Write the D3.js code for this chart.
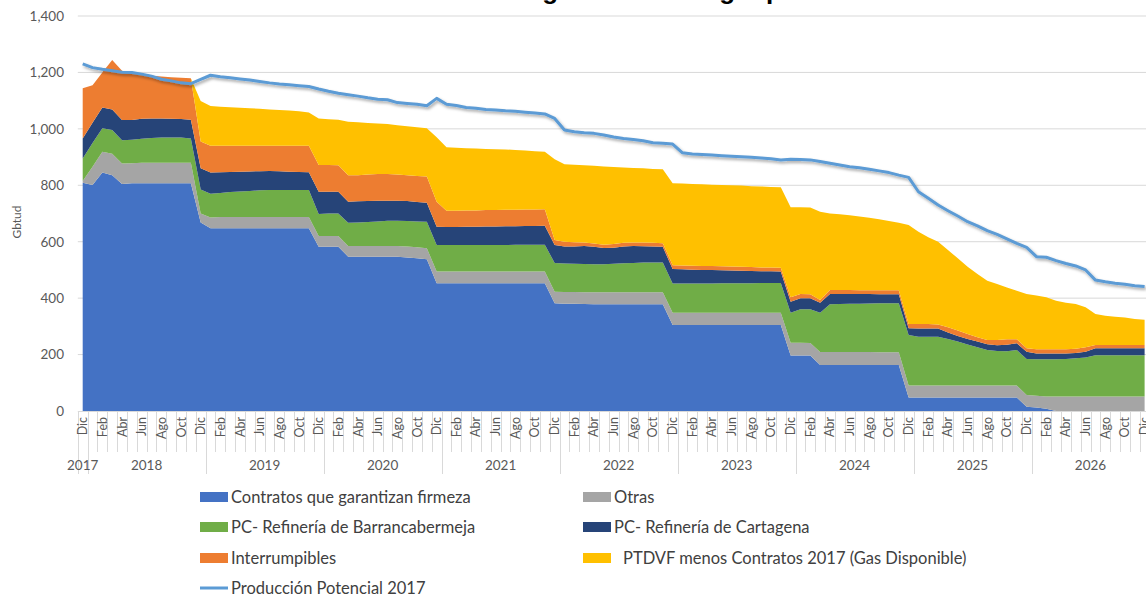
<!DOCTYPE html>
<html><head><meta charset="utf-8">
<script src="https://cdn.jsdelivr.net/npm/d3@7"></script>
<style>
body{margin:0;background:#fff}
svg{display:block}
text{font-family:Lato,"Open Sans",sans-serif}
</style>
</head><body>
<svg id="c" width="1146" height="597"></svg>
<script>
// ---------- DATA (monthly, Dic 2017 .. Dic 2026) ----------
const monthNames = ["Ene","Feb","Mar","Abr","May","Jun","Jul","Ago","Sep","Oct","Nov","Dic"];
const yearLabels = ["2017","2018","2019","2020","2021","2022","2023","2024","2025","2026"];
const yTicks = [0,200,400,600,800,1000,1200,1400];

const contratos = [
 809,801,845,836,805,807,807,807,807,807,807,807,
 668,648,648,648,648,648,648,648,648,648,648,648,
 582,582,582,547,547,547,547,547,547,544,541,538,
 453,453,453,453,453,453,453,453,453,453,453,453,
 382,380,380,379,378,378,378,378,378,378,378,378,
 305,305,305,305,305,305,305,305,305,305,305,305,
 197,197,197,163,163,163,163,163,163,163,163,163,
 48,48,48,48,48,48,48,48,48,48,48,48,
 15,12,8,0,0,0,0,0,0,0,0,0,0];
const otras = [
 6,65,74,76,72,71,73,73,73,73,73,73,
 32,38,40,40,40,40,40,40,40,40,40,40,
 38,38,38,38,38,38,38,38,38,39,39,39,
 41,41,41,41,41,41,41,41,41,41,41,41,
 41,42,42,42,43,43,43,43,43,43,43,43,
 43,43,43,43,43,43,43,43,43,43,43,43,
 45,45,44,46,46,46,46,46,46,45,45,45,
 42,42,42,42,42,42,42,42,42,42,42,42,
 42,42,43,51,51,51,51,51,51,51,51,51,51];
const barrancabermeja = [
 80,84,83,84,83,83,85,88,89,89,89,86,
 85,84,85,88,90,92,94,95,95,95,95,95,
 78,80,80,82,83,85,87,89,89,90,92,94,
 94,94,94,94,94,94,94,94,95,95,95,95,
 102,101,100,100,99,99,101,103,104,105,105,105,
 104,104,104,104,104,105,105,105,105,106,106,106,
 106,119,120,139,169,170,171,171,172,174,174,174,
 179,173,173,173,165,156,146,136,126,123,122,126,
 127,129,132,132,133,136,139,147,147,147,147,147,147];
const cartagena = [
 71,72,74,73,71,70,71,69,68,67,66,66,
 75,75,73,71,70,69,68,68,67,65,64,63,
 79,77,77,75,75,74,73,71,71,71,69,67,
 65,64,64,65,65,66,66,67,66,67,67,68,
 63,60,61,64,62,58,57,59,60,58,57,56,
 51,50,49,48,48,46,45,44,43,41,41,40,
 39,39,39,36,37,36,35,35,34,32,32,32,
 24,29,29,29,23,20,19,20,21,20,23,24,
 26,21,21,21,20,19,20,24,24,24,24,24,24];
const interrumpibles = [
 178,133,124,175,175,166,157,151,149,147,146,147,
 95,95,94,93,92,91,90,89,90,92,93,94,
 95,95,94,94,93,94,95,95,93,92,92,93,
 89,58,58,58,58,58,58,58,58,58,58,58,
 18,17,15,12,12,11,13,13,12,13,13,13,
 14,14,14,14,14,14,14,14,14,14,14,14,
 16,15,14,9,14,14,14,13,13,14,14,14,
 15,16,16,15,19,19,18,15,15,19,19,14,
 12,15,15,15,15,15,16,12,12,12,12,12,12];
const gasDisponible = [
 0,0,0,0,0,0,0,0,0,0,0,0,
 144,141,138,137,135,133,131,129,127,125,122,118,
 165,162,161,189,187,183,179,177,175,173,173,171,
 228,225,223,220,219,217,216,214,212,209,207,204,
 286,275,275,274,275,278,273,267,264,263,262,262,
 290,290,290,290,288,288,288,288,287,287,285,285,
 319,307,307,313,271,268,265,261,257,252,245,239,
 351,327,308,293,274,256,238,225,210,198,184,172,
 193,190,184,172,165,158,142,110,104,100,97,92,89];
const produccion = [
 1230,1217,1211,1206,1201,1200,1194,1187,1176,1170,1163,1160,
 1175,1190,1185,1181,1177,1173,1168,1163,1159,1156,1153,1150,
 1141,1133,1126,1121,1116,1110,1105,1103,1093,1090,1087,1082,
 1108,1087,1083,1076,1073,1069,1067,1064,1062,1059,1056,1053,
 1037,996,990,986,984,978,971,966,962,958,951,949,
 946,915,911,909,907,905,903,901,899,897,894,890,
 892,891,890,884,878,872,866,862,857,851,845,836,
 828,777,754,730,710,691,671,656,639,626,610,594,
 580,547,545,533,523,514,500,464,458,453,449,444,441];

const seriesNames = ["Contratos que garantizan firmeza","Otras","PC- Refinería de Barrancabermeja",
  "PC- Refinería de Cartagena","Interrumpibles","PTDVF menos Contratos 2017 (Gas Disponible)"];
const seriesColors = ["#4472c4","#a5a5a5","#70ad47","#264478","#ed7d31","#ffc000"];
const lineName = "Producción Potencial 2017";
const lineColor = "#5b9bd5";

// ---------- BUILD ----------
const n = contratos.length;
const cats = d3.range(n).map(i => monthNames[(11 + i) % 12]);
const keys = ["c","o","b","ct","i","g"];
const srcs = [contratos, otras, barrancabermeja, cartagena, interrumpibles, gasDisponible];
const table = d3.range(n).map(i => { const r = {idx:i}; keys.forEach((k,j)=> r[k]=srcs[j][i]); return r; });

const svg = d3.select("#c");
const x = d3.scaleLinear().domain([0, n-1]).range([82.7, 1144.6]);
const y = d3.scaleLinear().domain([0, 1400]).range([411, 16]);

const defs = svg.append("defs");
const f = defs.append("filter").attr("id","sh").attr("x","-5%").attr("y","-5%").attr("width","110%").attr("height","120%");
f.append("feDropShadow").attr("dx",1.5).attr("dy",2).attr("stdDeviation",1.4)
  .attr("flood-color","#000").attr("flood-opacity",0.35);

// title (mostly cut off at the top, as in the reference)
svg.append("text").attr("x",160).attr("y",-1.5)
  .style("font-family","'Liberation Sans', Arial, sans-serif")
  .attr("font-weight","bold").attr("font-size",26).attr("fill","#000")
  .attr("textLength",860).attr("lengthAdjust","spacing")
  .text("Gráfica 1. Contratación vigente de largo plazo 2017 - 2026");

// gridlines
svg.append("g").selectAll("line").data(yTicks.filter(d=>d>0)).join("line")
  .attr("x1",77.8).attr("x2",1146).attr("y1",d=>y(d)).attr("y2",d=>y(d))
  .attr("stroke","#d9d9d9").attr("stroke-width",1);

// y axis
const ya = svg.append("g").attr("transform","translate(77,0)")
  .call(d3.axisLeft(y).tickValues(yTicks).tickFormat(d3.format(",")).tickSize(0).tickPadding(13));
ya.select(".domain").remove();
ya.selectAll("text").attr("font-size",13.5).attr("fill","#595959").style("font-family","Lato, sans-serif");

svg.append("text").attr("transform","translate(21,222) rotate(-90)").attr("text-anchor","middle")
  .attr("font-size",12).attr("fill","#595959").text("Gbtud");

// stacked areas
const stack = d3.stack().keys(keys)(table);
const area = d3.area().x((d,i)=>x(i)).y0(d=>y(d[0])).y1(d=>y(d[1]));
svg.append("g").selectAll("path").data(stack).join("path")
  .attr("d",area).attr("fill",(d,j)=>seriesColors[j]);

// line
const line = d3.line().x((d,i)=>x(i)).y(d=>y(d));
svg.append("path").datum(produccion).attr("d",line).attr("fill","none")
  .attr("stroke",lineColor).attr("stroke-width",3).attr("stroke-linejoin","round")
  .attr("filter","url(#sh)");

// x axis baseline
svg.append("line").attr("x1",77.8).attr("x2",1146).attr("y1",411.5).attr("y2",411.5)
  .attr("stroke","#d9d9d9");

// month tick lines
const xa = svg.append("g");
xa.selectAll("line.m").data(d3.range(n+1)).join("line").attr("class","m")
  .attr("x1",i=>Math.round(x(i-0.5))+0.5).attr("x2",i=>Math.round(x(i-0.5))+0.5)
  .attr("y1",411).attr("y2",i => ((i-1)%12===0 || i===0) ? 474 : 452)
  .attr("stroke","#d9d9d9");
// month labels (every other)
xa.selectAll("text.m").data(d3.range(0,n,2)).join("text").attr("class","m")
  .attr("transform",i=>`translate(${x(i)},417) rotate(-90)`)
  .attr("text-anchor","end").attr("dy","0.36em")
  .attr("font-size",12.5).attr("fill","#595959").text(i=>cats[i]);
// year labels
const yearPos = yearLabels.map((t,k)=> k===0 ? 0 : (12*(k-1)+1 + 12*k)/2);
xa.selectAll("text.y").data(yearLabels).join("text").attr("class","y")
  .attr("x",(d,k)=>x(yearPos[k])).attr("y",470).attr("text-anchor","middle")
  .attr("font-size",13.5).attr("fill","#595959").text(d=>d);

// legend
const legendItems = [
  {name:seriesNames[0], c:seriesColors[0], x:200, y:497},
  {name:seriesNames[1], c:seriesColors[1], x:583, y:497},
  {name:seriesNames[2], c:seriesColors[2], x:200, y:527},
  {name:seriesNames[3], c:seriesColors[3], x:583, y:527},
  {name:seriesNames[4], c:seriesColors[4], x:200, y:558},
  {name:seriesNames[5], c:seriesColors[5], x:583, y:558, pad:9},
  {name:lineName, c:lineColor, x:200, y:588, line:true}
];
const lg = svg.append("g");
legendItems.forEach(it=>{
  if(it.line){
    lg.append("line").attr("x1",it.x).attr("x2",it.x+28).attr("y1",it.y).attr("y2",it.y)
      .attr("stroke",it.c).attr("stroke-width",3);
  } else {
    lg.append("rect").attr("x",it.x).attr("y",it.y-5).attr("width",28).attr("height",10).attr("fill",it.c);
  }
  lg.append("text").attr("x",it.x+31+(it.pad||0)).attr("y",it.y).attr("dy","0.36em")
    .attr("font-size",16.5).attr("fill","#404040").text(it.name);
});
</script>
</body></html>
